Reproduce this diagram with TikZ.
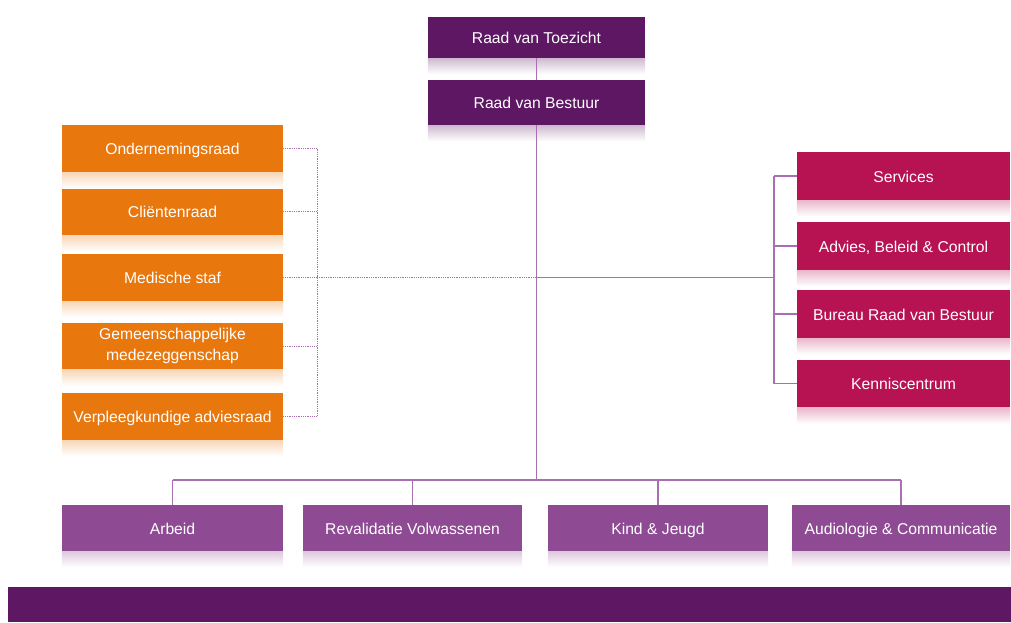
\documentclass[tikz,border=0pt]{standalone}
\usepackage{fontspec}
\setmainfont{Liberation Sans}
\usepackage{xcolor}
\definecolor{plum-900}{RGB}{94,23,98}
\definecolor{plum-500}{RGB}{142,74,146}
\definecolor{plum-300}{RGB}{170,110,178}
\definecolor{orange-600}{RGB}{232,119,14}
\definecolor{crimson-700}{RGB}{183,18,82}
\usepackage{tikz}
\usetikzlibrary{positioning}

\begin{document}
\begin{tikzpicture}[
    x=1pt, y=-1pt,
    org box/.style={fill=#1, text=white, inner sep=2pt, align=center, text height=13.5pt, text depth=1pt,
      font=\fontsize{15.7}{21.5}\selectfont},
    board box/.style={org box=plum-900, minimum width=217pt, minimum height=43pt},
    council box/.style={org box=orange-600, minimum width=221pt, minimum height=47pt},
    staff box/.style={org box=crimson-700, minimum width=213pt, minimum height=48pt},
    unit box/.style={org box=plum-500, minimum width=220pt, minimum height=46pt},
    link/.style={plum-300, line width=1.2pt},
    dotlink/.style={plum-300, line width=0.8pt, densely dotted}
]
\useasboundingbox (0,0) rectangle (1011,622);

% Top - boards
\node[board box, minimum height=41pt] (toezicht) at (536.5,37.5) {Raad van Toezicht};
\node[board box, minimum height=45pt] (bestuur) at (536.5,102.5) {Raad van Bestuur};

% Left - councils
\node[council box] (or) at (172.5,148.5) {Ondernemingsraad};
\node[council box] (cr) at (172.5,211.5) {Cli\"entenraad};
\node[council box] (ms) at (172.5,277.5) {Medische staf};
\node[council box, text height={}, text depth={}] (gmz) at (172.5,346) {Gemeenschappelijke\\medezeggenschap};
\node[council box] (var) at (172.5,416.5) {Verpleegkundige adviesraad};

% Right - staff departments
\node[staff box] (serv) at (903.5,176) {Services};
\node[staff box] (abc) at (903.5,246) {Advies, Beleid \& Control};
\node[staff box] (brvb) at (903.5,314) {Bureau Raad van Bestuur};
\node[staff box] (kc) at (903.5,383.5) {Kenniscentrum};

% Bottom - units
\node[unit box, minimum width=221pt] (arbeid) at (172.5,528) {Arbeid};
\node[unit box, minimum width=219pt] (reval) at (412.5,528) {Revalidatie Volwassenen};
\node[unit box] (kind) at (658,528) {Kind \& Jeugd};
\node[unit box, minimum width=218pt] (audio) at (901,528) {Audiologie \& Communicatie};

% Reflections under the boxes
\foreach \n/\c in {toezicht/plum-900, bestuur/plum-900, or/orange-600, cr/orange-600,
    ms/orange-600, gmz/orange-600, var/orange-600, serv/crimson-700, abc/crimson-700,
    brvb/crimson-700, kc/crimson-700, arbeid/plum-500, reval/plum-500, kind/plum-500, audio/plum-500}
  \shade[top color=\c!30, bottom color=white] (\n.south west) rectangle ([yshift=-16pt]\n.south east);

% Spines
\coordinate (lspine) at (317,0);
\coordinate (rspine) at (774,0);
\coordinate (bus) at (0,480);

% Board line and main trunk
\draw[link] (toezicht) -- (bestuur);
\draw[link] (bestuur.south) -- (bestuur.south |- bus);

% Councils bracket
\foreach \n in {or, cr, ms, gmz, var}
  \draw[dotlink] (\n.east) -- (\n.east -| lspine);
\draw[dotlink] (or.east -| lspine) -- (var.east -| lspine);
\draw[dotlink] (ms.east -| lspine) -- (ms.east -| bestuur.south);

% Staff bracket
\draw[link] (ms.east -| bestuur.south) -- (ms.east -| rspine);
\draw[link] (serv.west -| rspine) -- (kc.west -| rspine);
\foreach \n in {serv, abc, brvb, kc}
  \draw[link] (\n.west -| rspine) -- (\n.west);

% Units bus
\draw[link] (bus -| arbeid.north) -- (bus -| audio.north);
\foreach \n in {arbeid, reval, kind, audio}
  \draw[link] (bus -| \n.north) -- (\n.north);

% Bottom band
\fill[plum-900] (8,587) rectangle (1011,622);

\end{tikzpicture}
\end{document}
